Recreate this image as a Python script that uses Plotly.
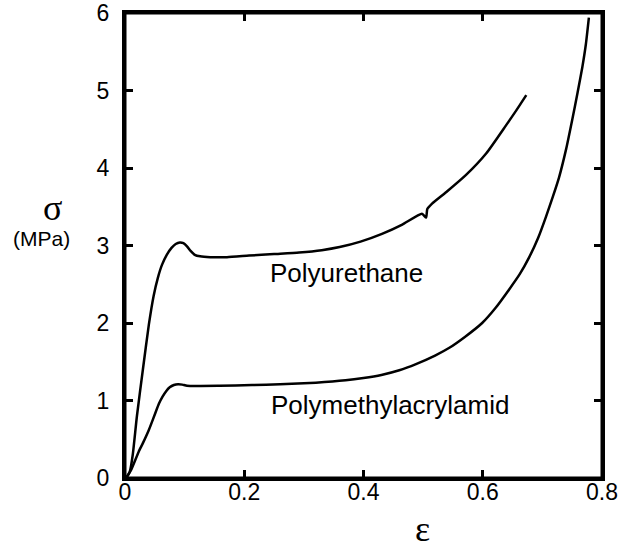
import plotly.graph_objects as go

# Polyurethane curve (strain, stress in MPa)
pu_eps = [0.002, 0.008, 0.013, 0.020, 0.030, 0.040, 0.048, 0.055, 0.062, 0.070,
          0.078, 0.085, 0.092, 0.098, 0.104, 0.110, 0.117, 0.126, 0.143, 0.171,
          0.208, 0.250, 0.292, 0.330, 0.360, 0.395, 0.431, 0.465, 0.498, 0.505,
          0.507, 0.515, 0.539, 0.572, 0.606, 0.639, 0.656, 0.673]
pu_sig = [0.00, 0.08, 0.30, 0.80, 1.40, 1.98, 2.35, 2.58, 2.75, 2.88,
          2.97, 3.02, 3.04, 3.03, 2.99, 2.93, 2.88, 2.86, 2.85, 2.85,
          2.87, 2.89, 2.91, 2.94, 2.98, 3.05, 3.15, 3.27, 3.41, 3.36,
          3.47, 3.54, 3.69, 3.91, 4.19, 4.55, 4.74, 4.94]

# Polymethylacrylamid curve
pma_eps = [0.002, 0.010, 0.023, 0.030, 0.040, 0.050, 0.057, 0.063, 0.069, 0.075,
           0.082, 0.089, 0.096, 0.104, 0.158, 0.213, 0.260, 0.320, 0.370, 0.400,
           0.430, 0.460, 0.488, 0.520, 0.544, 0.570, 0.599, 0.622, 0.644, 0.662,
           0.678, 0.693, 0.706, 0.718, 0.728, 0.740, 0.750, 0.759, 0.767, 0.773,
           0.778]
pma_sig = [0.00, 0.10, 0.34, 0.45, 0.62, 0.82, 0.96, 1.05, 1.12, 1.17,
           1.20, 1.21, 1.205, 1.19, 1.19, 1.20, 1.21, 1.23, 1.26, 1.29,
           1.33, 1.39, 1.47, 1.58, 1.68, 1.82, 2.00, 2.20, 2.43, 2.63,
           2.85, 3.10, 3.37, 3.64, 3.88, 4.25, 4.62, 4.97, 5.30, 5.60,
           5.94]

x_ticks = [0, 0.2, 0.4, 0.6, 0.8]
x_tick_labels = ["0", "0.2", "0.4", "0.6", "0.8"]
y_ticks = [0, 1, 2, 3, 4, 5, 6]
y_tick_labels = ["0", "1", "2", "3", "4", "5", "6"]

fig = go.Figure()
fig.add_trace(go.Scatter(x=pu_eps, y=pu_sig, mode="lines",
                         line=dict(color="black", width=2.5, shape="spline", smoothing=0.5),
                         name="Polyurethane", showlegend=False))
fig.add_trace(go.Scatter(x=pma_eps, y=pma_sig, mode="lines",
                         line=dict(color="black", width=2.5, shape="spline", smoothing=0.5),
                         name="Polymethylacrylamid", showlegend=False))

axis_common = dict(showline=True, linecolor="black", linewidth=3, mirror="ticks",
                   ticks="inside", ticklen=8, tickwidth=2.5, tickcolor="black",
                   showgrid=False, zeroline=False, automargin=False,
                   ticklabeloverflow="allow",
                   tickfont=dict(family="Liberation Sans, Arial", size=23, color="black"))

fig.update_layout(
    width=620, height=551,
    margin=dict(l=125, r=18, t=13, b=73),
    plot_bgcolor="white", paper_bgcolor="white",
    xaxis=dict(range=[0, 0.8], tickvals=x_ticks, ticktext=x_tick_labels,
               ticklabelstandoff=-9, **axis_common),
    yaxis=dict(range=[0, 6], tickvals=y_ticks, ticktext=y_tick_labels,
               ticklabelstandoff=8, **axis_common),
    shapes=[dict(type="rect", xref="paper", yref="paper", x0=0, y0=0, x1=1, y1=1,
                 line=dict(color="black", width=3), layer="above")],
    annotations=[
        dict(text="Polyurethane", x=0.371, y=2.65, xref="x", yref="y",
             xanchor="center", yanchor="middle", showarrow=False,
             font=dict(family="Liberation Sans, Arial", size=26, color="black")),
        dict(text="Polymethylacrylamid", x=0.445, y=0.94, xref="x", yref="y",
             xanchor="center", yanchor="middle", showarrow=False,
             font=dict(family="Liberation Sans, Arial", size=26, color="black")),
        dict(text="σ", x=-0.151, y=0.58, xref="paper", yref="paper",
             xanchor="center", yanchor="middle", showarrow=False,
             font=dict(family="Liberation Serif, serif", size=36, color="black")),
        dict(text="(MPa)", x=-0.176, y=0.516, xref="paper", yref="paper",
             xanchor="center", yanchor="middle", showarrow=False,
             font=dict(family="Liberation Sans, Arial", size=21, color="black")),
        dict(text="ε", x=0.623, y=-0.11, xref="paper", yref="paper",
             xanchor="center", yanchor="middle", showarrow=False,
             font=dict(family="Liberation Serif, serif", size=36, color="black")),
    ],
)

fig.write_html("out.html", config={"displayModeBar": False},
               post_script="document.body.style.margin='0px';")
